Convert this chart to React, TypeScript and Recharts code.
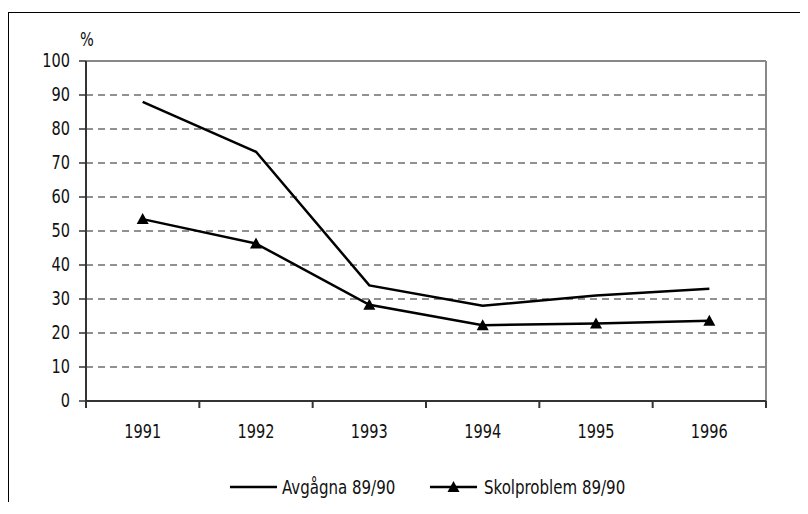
import React from "react";
import { LineChart, Line, XAxis, YAxis, CartesianGrid, ReferenceLine } from "recharts";

const years = ["1991", "1992", "1993", "1994", "1995", "1996"];
const avgagna = [88, 73.3, 34, 28, 31, 33];
const skolproblem = [53.5, 46.3, 28.3, 22.3, 22.8, 23.6];
const yTicks = [0, 10, 20, 30, 40, 50, 60, 70, 80, 90, 100];
const seriesNames = ["Avgågna 89/90", "Skolproblem 89/90"];

const FONT = "'DejaVu Sans Condensed', 'DejaVu Sans', sans-serif";
const SQUEEZE = 0.85;

const data = years.map((year, i) => ({
  x: i + 0.5,
  year,
  avgagna: avgagna[i],
  skolproblem: skolproblem[i],
}));

// tick lines at band edges, year labels at band centres
const xTicks: number[] = [];
for (let i = 0; i <= years.length * 2; i++) xTicks.push(i / 2);

function Narrow(props: any) {
  const { x, y, anchor, children, scale = SQUEEZE } = props;
  return (
    <g transform={`translate(${x},${y})`}>
      <text
        transform={`scale(${scale},1)`}
        textAnchor={anchor}
        dominantBaseline="central"
        fontFamily={FONT}
        fontSize={19}
        fill="#111"
      >
        {children}
      </text>
    </g>
  );
}

function XTick(props: any) {
  const { x, y, payload } = props;
  const v = payload.value as number;
  if (Number.isInteger(v)) {
    return <line x1={x} x2={x} y1={y} y2={y + 7} stroke="#333" strokeWidth={2} />;
  }
  return (
    <Narrow x={x} y={y + 31} anchor="middle">
      {years[Math.floor(v)]}
    </Narrow>
  );
}

function YTick(props: any) {
  const { x, y, payload } = props;
  return (
    <Narrow x={x} y={y} anchor="end">
      {payload.value}
    </Narrow>
  );
}

function Triangle(props: any) {
  const { cx, cy } = props;
  if (cx == null || cy == null) return null;
  return <path d={`M${cx},${cy - 6} L${cx + 6},${cy + 5} L${cx - 6},${cy + 5} Z`} fill="#000" />;
}

export default function App() {
  return (
    <div style={{ position: "relative", width: 800, height: 494 }}>
      <div
        style={{
          position: "absolute",
          left: 0,
          top: 4,
          width: 800,
          height: 490,
          borderTop: "1.5px solid #000",
          borderLeft: "1.5px solid #000",
          boxSizing: "border-box",
        }}
      />
      <div style={{ position: "absolute", left: 0, top: 0 }}>
        <LineChart width={800} height={490} data={data} margin={{ top: 53, right: 42, bottom: 57, left: 0 }}>
          <CartesianGrid vertical={false} stroke="#222" strokeDasharray="7 5" />
          <XAxis
            dataKey="x"
            type="number"
            domain={[0, years.length]}
            ticks={xTicks}
            interval={0}
            tickLine={false}
            tickSize={0}
            tickMargin={0}
            tick={<XTick />}
            axisLine={{ stroke: "#333", strokeWidth: 2 }}
            height={40}
          />
          <YAxis
            domain={[0, 100]}
            ticks={yTicks}
            interval={0}
            width={78}
            tickSize={7}
            tickMargin={9}
            tickLine={{ stroke: "#333", strokeWidth: 1.5 }}
            axisLine={{ stroke: "#333", strokeWidth: 2 }}
            tick={<YTick />}
          />
          <ReferenceLine y={100} stroke="#888" strokeWidth={2} />
          <ReferenceLine x={years.length} stroke="#888" strokeWidth={2} />
          <Line dataKey="avgagna" name={seriesNames[0]} stroke="#000" strokeWidth={2.5} dot={false} isAnimationActive={false} />
          <Line
            dataKey="skolproblem"
            name={seriesNames[1]}
            stroke="#000"
            strokeWidth={2.5}
            dot={<Triangle />}
            isAnimationActive={false}
          />
        </LineChart>
      </div>
      <svg style={{ position: "absolute", left: 66, top: 18 }} width={30} height={30}>
        <Narrow x={6} y={14} anchor="start">%</Narrow>
      </svg>
      <svg style={{ position: "absolute", left: 222, top: 464 }} width={420} height={30}>
        <line x1={0} x2={47} y1={15} y2={15} stroke="#000" strokeWidth={2.5} />
        <Narrow x={52} y={15} anchor="start" scale={0.88}>
          {seriesNames[0]}
        </Narrow>
        <line x1={200} x2={247} y1={15} y2={15} stroke="#000" strokeWidth={2.5} />
        <Triangle cx={223.5} cy={15} />
        <Narrow x={254} y={15} anchor="start" scale={0.88}>
          {seriesNames[1]}
        </Narrow>
      </svg>
    </div>
  );
}
